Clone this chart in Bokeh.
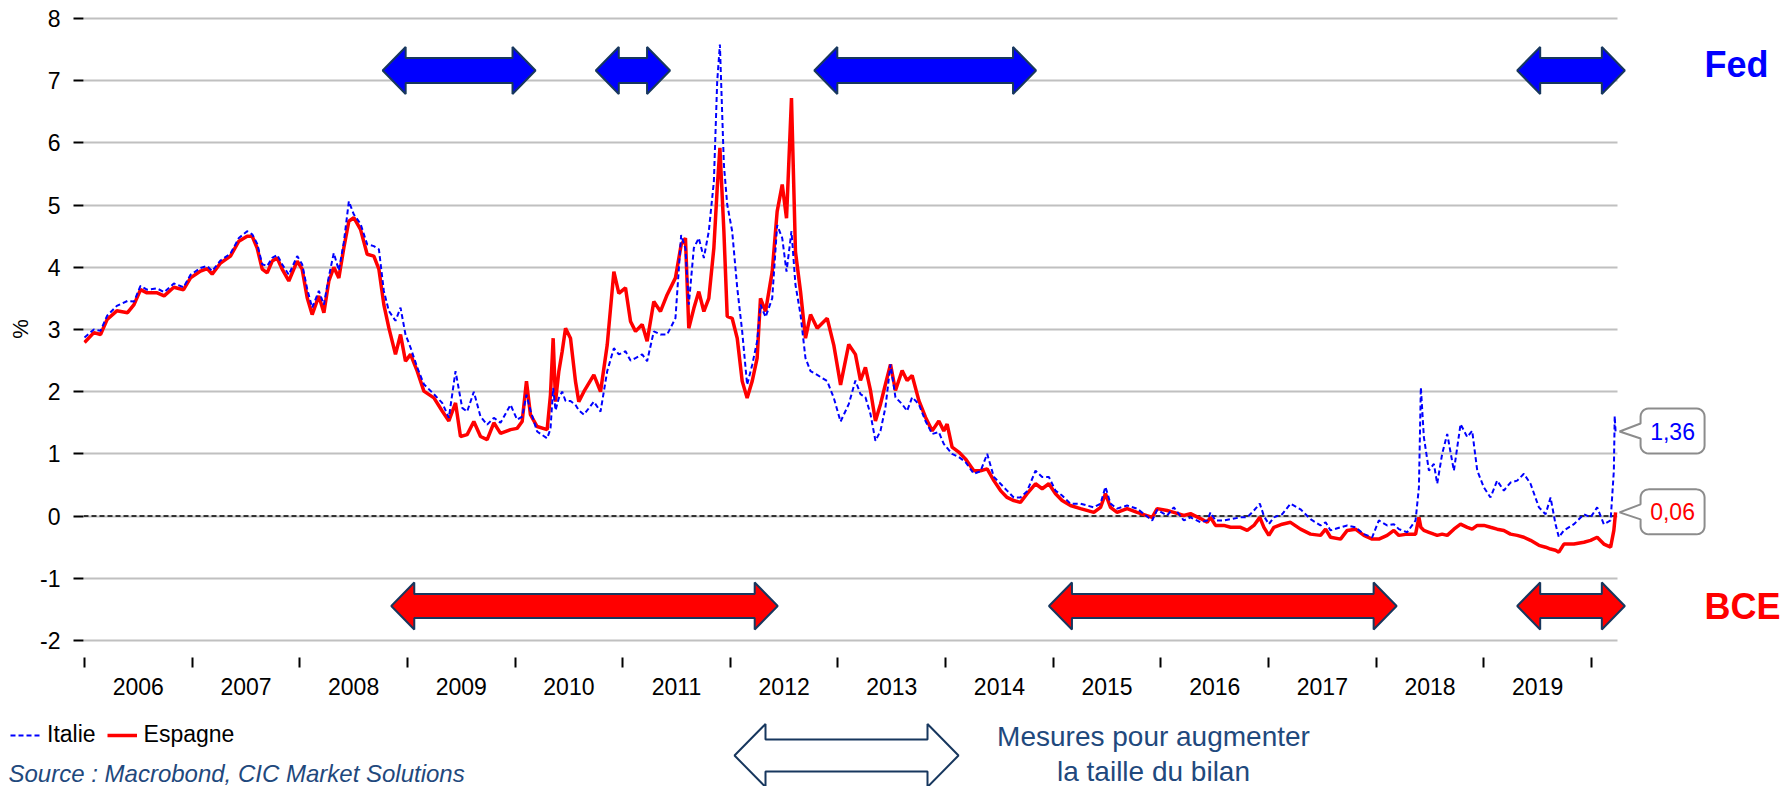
import math
from bokeh.plotting import figure
from bokeh.models import (Range1d, FixedTicker, CustomJSTickFormatter, Legend,
                          LegendItem, ColumnDataSource)
from bokeh.layouts import column
from bokeh.core.properties import value
from bokeh.embed import file_html
from bokeh.resources import INLINE

# ---------------- data ----------------
es_dates = [
    2006.000, 2006.087, 2006.149, 2006.210, 2006.300, 2006.400, 2006.460, 2006.520, 2006.580, 2006.675,
    2006.740, 2006.830, 2006.920, 2006.985, 2007.078, 2007.140, 2007.186, 2007.264, 2007.356, 2007.434,
    2007.511, 2007.558, 2007.604, 2007.651, 2007.697, 2007.744, 2007.790, 2007.836, 2007.898, 2007.976,
    2008.022, 2008.069, 2008.115, 2008.177, 2008.224, 2008.270, 2008.316, 2008.363, 2008.409, 2008.456,
    2008.502, 2008.564, 2008.626, 2008.688, 2008.735, 2008.781, 2008.827, 2008.889, 2008.936, 2008.982,
    2009.029, 2009.091, 2009.153, 2009.246, 2009.323, 2009.385, 2009.447, 2009.493, 2009.555, 2009.617,
    2009.679, 2009.741, 2009.803, 2009.865, 2009.958, 2010.019, 2010.066, 2010.106, 2010.143, 2010.205,
    2010.298, 2010.329, 2010.354, 2010.376, 2010.407, 2010.438, 2010.469, 2010.515, 2010.561, 2010.592,
    2010.639, 2010.732, 2010.794, 2010.856, 2010.918, 2010.964, 2011.026, 2011.073, 2011.119, 2011.181,
    2011.227, 2011.289, 2011.351, 2011.413, 2011.490, 2011.543, 2011.583, 2011.614, 2011.661, 2011.707,
    2011.754, 2011.800, 2011.847, 2011.878, 2011.903, 2011.940, 2011.971, 2012.017, 2012.064, 2012.110,
    2012.156, 2012.203, 2012.249, 2012.280, 2012.327, 2012.389, 2012.435, 2012.482, 2012.522, 2012.568,
    2012.605, 2012.652, 2012.698, 2012.745, 2012.807, 2012.900, 2012.961, 2013.024, 2013.100, 2013.162,
    2013.209, 2013.255, 2013.302, 2013.348, 2013.395, 2013.441, 2013.488, 2013.534, 2013.596, 2013.642,
    2013.689, 2013.751, 2013.813, 2013.875, 2013.937, 2013.983, 2014.014, 2014.060, 2014.122, 2014.184,
    2014.262, 2014.324, 2014.386, 2014.448, 2014.510, 2014.571, 2014.633, 2014.695, 2014.757, 2014.835,
    2014.897, 2014.959, 2015.021, 2015.082, 2015.160, 2015.253, 2015.377, 2015.439, 2015.485, 2015.532,
    2015.593, 2015.686, 2015.779, 2015.919, 2015.965, 2016.058, 2016.120, 2016.213, 2016.275, 2016.368,
    2016.430, 2016.461, 2016.507, 2016.584, 2016.647, 2016.740, 2016.802, 2016.864, 2016.919, 2016.957,
    2017.003, 2017.050, 2017.127, 2017.204, 2017.297, 2017.390, 2017.483, 2017.530, 2017.576, 2017.669,
    2017.731, 2017.808, 2017.886, 2017.963, 2018.025, 2018.102, 2018.164, 2018.211, 2018.288, 2018.366,
    2018.397, 2018.415, 2018.443, 2018.490, 2018.536, 2018.567, 2018.613, 2018.660, 2018.722, 2018.784,
    2018.846, 2018.892, 2018.939, 2019.001, 2019.062, 2019.124, 2019.186, 2019.248, 2019.310, 2019.372,
    2019.434, 2019.512, 2019.574, 2019.620, 2019.666, 2019.697, 2019.744, 2019.837, 2019.930, 2019.992,
    2020.053, 2020.115, 2020.178, 2020.208, 2020.224,
]
es_values = [
    2.79, 2.95, 2.92, 3.16, 3.30, 3.27, 3.40, 3.64, 3.59, 3.59,
    3.54, 3.68, 3.64, 3.83, 3.94, 3.98, 3.89, 4.07, 4.18, 4.42,
    4.50, 4.50, 4.31, 3.97, 3.91, 4.10, 4.15, 3.97, 3.78, 4.10,
    3.97, 3.51, 3.24, 3.54, 3.27, 3.78, 4.00, 3.83, 4.31, 4.74,
    4.80, 4.61, 4.21, 4.18, 3.97, 3.40, 3.03, 2.60, 2.92, 2.49,
    2.60, 2.33, 2.01, 1.90, 1.69, 1.53, 1.82, 1.28, 1.31, 1.52,
    1.28, 1.23, 1.50, 1.33, 1.39, 1.41, 1.52, 2.17, 1.63, 1.44,
    1.39, 1.95, 2.86, 1.84, 2.33, 2.65, 3.02, 2.86, 2.17, 1.84,
    2.00, 2.27, 2.00, 2.75, 3.93, 3.58, 3.67, 3.13, 2.97, 3.08,
    2.81, 3.45, 3.29, 3.56, 3.83, 4.36, 4.47, 3.02, 3.34, 3.61,
    3.29, 3.50, 4.31, 5.27, 5.92, 4.58, 3.21, 3.18, 2.86, 2.17,
    1.90, 2.17, 2.54, 3.50, 3.29, 3.93, 4.90, 5.33, 4.79, 6.72,
    4.25, 3.61, 2.86, 3.24, 3.02, 3.18, 2.75, 2.11, 2.76, 2.60,
    2.18, 2.39, 2.02, 1.53, 1.80, 2.12, 2.44, 2.02, 2.34, 2.18,
    2.26, 1.86, 1.59, 1.37, 1.53, 1.37, 1.48, 1.11, 1.03, 0.92,
    0.73, 0.73, 0.76, 0.57, 0.41, 0.30, 0.25, 0.22, 0.36, 0.52,
    0.44, 0.52, 0.36, 0.25, 0.17, 0.12, 0.06, 0.14, 0.36, 0.14,
    0.06, 0.12, 0.06, -0.02, 0.12, 0.09, 0.06, 0.01, 0.04, -0.04,
    -0.10, -0.02, -0.15, -0.15, -0.18, -0.18, -0.23, -0.15, -0.02, -0.18,
    -0.31, -0.18, -0.13, -0.10, -0.21, -0.29, -0.31, -0.21, -0.34, -0.37,
    -0.23, -0.21, -0.31, -0.37, -0.37, -0.31, -0.23, -0.31, -0.29, -0.29,
    -0.02, -0.18, -0.23, -0.26, -0.29, -0.31, -0.29, -0.31, -0.21, -0.13,
    -0.18, -0.21, -0.15, -0.15, -0.18, -0.21, -0.23, -0.29, -0.31, -0.34,
    -0.39, -0.47, -0.50, -0.53, -0.55, -0.58, -0.45, -0.45, -0.42, -0.39,
    -0.34, -0.45, -0.50, -0.23, 0.06,
]

it_dates = [
    2006.000, 2006.087, 2006.149, 2006.210, 2006.300, 2006.400, 2006.460, 2006.520, 2006.580, 2006.675,
    2006.740, 2006.830, 2006.920, 2006.985, 2007.078, 2007.140, 2007.186, 2007.264, 2007.356, 2007.434,
    2007.511, 2007.558, 2007.604, 2007.651, 2007.697, 2007.744, 2007.790, 2007.836, 2007.898, 2007.976,
    2008.022, 2008.069, 2008.115, 2008.177, 2008.224, 2008.270, 2008.316, 2008.363, 2008.409, 2008.456,
    2008.502, 2008.564, 2008.626, 2008.688, 2008.735, 2008.781, 2008.827, 2008.889, 2008.936, 2008.982,
    2009.029, 2009.091, 2009.153, 2009.246, 2009.323, 2009.385, 2009.447, 2009.509, 2009.555, 2009.617,
    2009.679, 2009.741, 2009.803, 2009.865, 2009.958, 2010.019, 2010.066, 2010.106, 2010.143, 2010.205,
    2010.298, 2010.329, 2010.354, 2010.376, 2010.407, 2010.438, 2010.469, 2010.515, 2010.561, 2010.592,
    2010.639, 2010.732, 2010.794, 2010.856, 2010.918, 2010.964, 2011.026, 2011.073, 2011.119, 2011.181,
    2011.227, 2011.289, 2011.351, 2011.413, 2011.490, 2011.543, 2011.583, 2011.614, 2011.661, 2011.707,
    2011.754, 2011.800, 2011.847, 2011.878, 2011.903, 2011.940, 2011.971, 2012.017, 2012.064, 2012.110,
    2012.156, 2012.203, 2012.249, 2012.280, 2012.327, 2012.389, 2012.435, 2012.482, 2012.522, 2012.568,
    2012.605, 2012.652, 2012.698, 2012.745, 2012.807, 2012.900, 2012.961, 2013.024, 2013.100, 2013.162,
    2013.209, 2013.255, 2013.302, 2013.348, 2013.395, 2013.441, 2013.488, 2013.534, 2013.596, 2013.642,
    2013.689, 2013.751, 2013.813, 2013.875, 2013.937, 2013.983, 2014.060, 2014.122, 2014.184, 2014.262,
    2014.324, 2014.386, 2014.448, 2014.510, 2014.571, 2014.633, 2014.695, 2014.757, 2014.835, 2014.897,
    2014.959, 2015.021, 2015.082, 2015.160, 2015.253, 2015.377, 2015.439, 2015.485, 2015.532, 2015.593,
    2015.686, 2015.779, 2015.919, 2015.965, 2016.058, 2016.120, 2016.213, 2016.275, 2016.368, 2016.430,
    2016.461, 2016.507, 2016.584, 2016.647, 2016.740, 2016.802, 2016.864, 2016.919, 2016.957, 2017.003,
    2017.050, 2017.127, 2017.204, 2017.297, 2017.390, 2017.483, 2017.530, 2017.576, 2017.669, 2017.731,
    2017.808, 2017.886, 2017.963, 2018.025, 2018.102, 2018.164, 2018.211, 2018.288, 2018.366, 2018.397,
    2018.415, 2018.443, 2018.490, 2018.536, 2018.567, 2018.613, 2018.660, 2018.722, 2018.784, 2018.846,
    2018.892, 2018.939, 2019.001, 2019.062, 2019.124, 2019.186, 2019.248, 2019.310, 2019.372, 2019.434,
    2019.512, 2019.574, 2019.620, 2019.666, 2019.697, 2019.744, 2019.837, 2019.930, 2019.992, 2020.053,
    2020.115, 2020.178, 2020.208, 2020.216, 2020.224,
]
it_values = [
    2.87, 3.00, 2.98, 3.22, 3.38, 3.46, 3.45, 3.70, 3.64, 3.66,
    3.60, 3.74, 3.68, 3.88, 3.99, 4.02, 3.94, 4.11, 4.22, 4.47,
    4.58, 4.53, 4.38, 4.05, 4.02, 4.15, 4.20, 4.05, 3.88, 4.18,
    4.05, 3.65, 3.35, 3.62, 3.40, 3.85, 4.23, 3.95, 4.40, 5.06,
    4.85, 4.70, 4.37, 4.34, 4.29, 3.62, 3.30, 3.14, 3.35, 2.92,
    2.71, 2.39, 2.12, 1.96, 1.82, 1.58, 2.33, 1.74, 1.68, 2.00,
    1.60, 1.47, 1.58, 1.50, 1.79, 1.55, 1.60, 1.95, 1.70, 1.36,
    1.25, 1.40, 2.06, 1.70, 1.90, 2.00, 1.85, 1.85, 1.79, 1.70,
    1.63, 1.84, 1.68, 2.33, 2.70, 2.60, 2.65, 2.50, 2.54, 2.60,
    2.49, 2.97, 2.92, 2.92, 3.18, 4.52, 4.30, 3.40, 4.31, 4.47,
    4.15, 4.58, 5.38, 6.99, 7.58, 5.65, 5.01, 4.58, 3.67, 2.97,
    2.11, 2.43, 2.81, 3.40, 3.20, 3.50, 4.68, 4.47, 3.93, 4.58,
    3.72, 3.24, 2.54, 2.33, 2.27, 2.17, 1.90, 1.52, 1.80, 2.18,
    1.96, 1.91, 1.64, 1.21, 1.37, 1.75, 2.44, 1.91, 1.80, 1.69,
    1.91, 1.80, 1.53, 1.32, 1.35, 1.16, 1.00, 0.95, 0.87, 0.68,
    0.72, 1.00, 0.63, 0.52, 0.41, 0.30, 0.30, 0.40, 0.73, 0.63,
    0.63, 0.41, 0.33, 0.20, 0.20, 0.14, 0.20, 0.47, 0.20, 0.12,
    0.17, 0.12, -0.07, 0.10, 0.01, 0.14, -0.07, -0.02, -0.10, -0.07,
    0.06, -0.07, -0.07, -0.05, -0.02, -0.02, 0.09, 0.20, 0.00, -0.13,
    -0.02, 0.03, 0.20, 0.11, -0.05, -0.15, -0.10, -0.23, -0.18, -0.15,
    -0.18, -0.29, -0.34, -0.07, -0.15, -0.13, -0.21, -0.26, -0.07, 0.46,
    2.07, 1.27, 0.73, 0.84, 0.52, 1.00, 1.32, 0.73, 1.48, 1.27,
    1.37, 0.73, 0.46, 0.30, 0.57, 0.41, 0.54, 0.57, 0.68, 0.52,
    0.14, 0.03, 0.30, -0.13, -0.34, -0.23, -0.13, 0.03, -0.02, 0.14,
    -0.13, -0.07, 0.73, 1.61, 1.36,
]

series_names = ["Italie", "Espagne"]
year_bounds = list(range(2006, 2021))          # tick marks at year boundaries
y_ticks = list(range(-2, 9))
fed_start = [2008.77, 2010.75, 2012.78, 2019.31]
fed_end = [2010.19, 2011.44, 2014.84, 2020.31]
bce_start = [2008.85, 2014.96, 2019.31]
bce_end = [2012.44, 2018.19, 2020.31]
bank_labels = ["Fed", "BCE"]
y_label = "%"
source_text = "Source : Macrobond, CIC Market Solutions"
key_text = ["Mesures pour augmenter", "la taille du bilan"]

# ---------------- layout constants (pixels) ----------------
FONT = "Liberation Sans"
BLUE, RED, NAVY, OUTLINE = "#0000FF", "#FF0000", "#1F497D", "#17375E"
W, H1, H2 = 1784, 700, 86
PX_YEAR = 107.64
PX_UNIT = 62.2
X0_PX = 84.0         # pixel x of 1 Jan 2006
Y0_PX = 515.6        # pixel y of value 0
FRAME_L_PX = 83
FRAME_B_PX = 657
GRID_R_PX = 1617


def px2yr(px):
    return 2006 + (px - X0_PX) / PX_YEAR


def py2v(py):
    return (Y0_PX - py) / PX_UNIT


x_start, x_end = px2yr(FRAME_L_PX), px2yr(W)
y_start, y_end = py2v(FRAME_B_PX), py2v(0)
grid_end = px2yr(GRID_R_PX)

# ---------------- main chart ----------------
p = figure(width=W, height=H1, x_range=Range1d(x_start, x_end), y_range=Range1d(y_start, y_end),
           output_backend="svg", toolbar_location=None, frame_align=False,
           min_border_left=FRAME_L_PX, min_border_right=0, min_border_top=0,
           min_border_bottom=H1 - FRAME_B_PX)
p.outline_line_color = None
p.background_fill_color = "white"
p.border_fill_color = "white"

xa = p.xaxis[0]
xa.ticker = FixedTicker(ticks=[y + 0.5 for y in year_bounds[:-1]], minor_ticks=year_bounds)
xa.formatter = CustomJSTickFormatter(code="return String(Math.floor(tick));")
xa.axis_line_color = None
xa.major_tick_line_color = None
xa.major_tick_out = 0
xa.major_tick_in = 0
xa.minor_tick_line_color = "black"
xa.minor_tick_line_width = 2
xa.minor_tick_out = 10
xa.minor_tick_in = 0
xa.major_label_standoff = 10
xa.major_label_text_font = FONT
xa.major_label_text_font_size = "23px"
xa.major_label_text_color = "black"
p.xgrid.visible = False

ya = p.yaxis[0]
ya.ticker = FixedTicker(ticks=y_ticks)
ya.formatter = CustomJSTickFormatter(code="return String(tick);")
ya.axis_line_color = None
ya.major_tick_line_color = "black"
ya.major_tick_line_width = 2
ya.major_tick_out = 10
ya.major_tick_in = 0
ya.minor_tick_line_color = None
ya.major_label_standoff = 13
ya.major_label_text_font = FONT
ya.major_label_text_font_size = "23px"
ya.major_label_text_color = "black"
ya.axis_label = y_label
ya.axis_label_text_font = FONT
ya.axis_label_text_font_size = "22px"
ya.axis_label_text_font_style = "normal"
ya.axis_label_text_color = "black"
ya.axis_label_standoff = 4

p.ygrid.grid_line_color = "#C0C0C0"
p.ygrid.grid_line_width = 2
p.ygrid.cross_bounds = (x_start, grid_end)

# zero reference line
p.line(x=[x_start, grid_end], y=[0, 0], line_color="black", line_width=1.5, line_dash="5 3")

# series
src_es = ColumnDataSource(dict(x=es_dates, y=es_values))
src_it = ColumnDataSource(dict(x=it_dates, y=it_values))
r_es = p.line("x", "y", source=src_es, line_color=RED, line_width=3.5)
r_it = p.line("x", "y", source=src_it, line_color=BLUE, line_width=2, line_dash="5 3")


def arrow_shape(x0, x1, yc, head_px, half_px, shaft_px, px_x, px_y):
    hx = head_px / px_x
    hy = half_px / px_y
    sy = shaft_px / px_y
    xs = [x0, x0 + hx, x0 + hx, x1 - hx, x1 - hx, x1, x1 - hx, x1 - hx, x0 + hx, x0 + hx]
    ys = [yc, yc + hy, yc + sy, yc + sy, yc + hy, yc, yc - hy, yc - sy, yc - sy, yc - hy]
    return xs, ys


fed_row = py2v(70)
bce_row = py2v(605.5)
fed_shapes = [arrow_shape(a, b, fed_row, 23, 23.5, 12.5, PX_YEAR, PX_UNIT) for a, b in zip(fed_start, fed_end)]
bce_shapes = [arrow_shape(a, b, bce_row, 23, 23.5, 12, PX_YEAR, PX_UNIT) for a, b in zip(bce_start, bce_end)]
p.patches(xs=[s[0] for s in fed_shapes], ys=[s[1] for s in fed_shapes],
          fill_color=BLUE, line_color=OUTLINE, line_width=2)
p.patches(xs=[s[0] for s in bce_shapes], ys=[s[1] for s in bce_shapes],
          fill_color=RED, line_color=OUTLINE, line_width=2)

p.text(x=[px2yr(1704)], y=[py2v(63.5)], text=[bank_labels[0]], text_font=value(FONT),
       text_font_style="bold", text_font_size="36px", text_color=BLUE,
       text_align="left", text_baseline="middle")
p.text(x=[px2yr(1704)], y=[py2v(605.5)], text=[bank_labels[1]], text_font=value(FONT),
       text_font_style="bold", text_font_size="36px", text_color=RED,
       text_align="left", text_baseline="middle")


# value callouts at the last point of each series
def callout(last_x, last_v, color):
    tip_x = last_x + 4 / PX_YEAR
    r, L, R, T, B = 8, 21, 85, -23, 22

    def arc(cx, cy, a0, a1, n=6):
        return [(cx + r * math.cos(a0 + (a1 - a0) * k / n), cy + r * math.sin(a0 + (a1 - a0) * k / n))
                for k in range(n + 1)]
    pts = [(0, 0), (L, -8)]
    pts += arc(L + r, T + r, math.pi, 1.5 * math.pi)
    pts += arc(R - r, T + r, 1.5 * math.pi, 2 * math.pi)
    pts += arc(R - r, B - r, 0, 0.5 * math.pi)
    pts += arc(L + r, B - r, 0.5 * math.pi, math.pi)
    pts += [(L, 7)]
    xs = [tip_x + dx / PX_YEAR for dx, dy in pts]
    ys = [last_v - dy / PX_UNIT for dx, dy in pts]
    p.patch(xs, ys, fill_color="white", line_color="#8C8C8C", line_width=2)
    label = f"{last_v:.2f}".replace(".", ",")
    p.text(x=[tip_x + 53 / PX_YEAR], y=[last_v + 0.5 / PX_UNIT], text=[label],
           text_font=value(FONT), text_font_size="23px", text_color=color,
           text_align="center", text_baseline="middle")


callout(it_dates[-1], it_values[-1], BLUE)
callout(es_dates[-1], es_values[-1], RED)

# ---------------- bottom strip: legend, source, key (pixel coordinates) ----------------
p2 = figure(width=W, height=H2, x_range=Range1d(0, W),
            y_range=Range1d(H1 + H2, H1),
            output_backend="svg", toolbar_location=None, min_border=0, frame_align=False,
            x_axis_type=None, y_axis_type=None)
p2.outline_line_color = None
p2.grid.visible = False
p2.background_fill_color = "white"
p2.border_fill_color = "white"

# legend sample renderers (their points lie outside the visible strip)
d_it = p2.line(x=[-1000, -990], y=[-1000, -990], line_color=BLUE, line_width=2, line_dash="5 3")
d_es = p2.line(x=[-1000, -990], y=[-1000, -990], line_color=RED, line_width=3.5)
legend = Legend(items=[LegendItem(label=series_names[0], renderers=[d_it]),
                       LegendItem(label=series_names[1], renderers=[d_es])],
                location=(10, H1 + H2 - 748), orientation="horizontal", glyph_width=30, glyph_height=20,
                label_standoff=7, spacing=11, padding=0, margin=0,
                label_text_font=FONT, label_text_font_size="23px", label_text_color="black",
                border_line_color=None, background_fill_alpha=0)
p2.add_layout(legend)

p2.text(x=[8], y=[773], text=[source_text], text_font=value(FONT), text_font_style="italic",
        text_font_size="24px", text_color=NAVY, text_align="left", text_baseline="middle")

kx, ky = arrow_shape(734, 958, 755, 31, -31.5, -16, 1, 1)
p2.patch(kx, ky, fill_color="white", line_color=OUTLINE, line_width=2)
p2.text(x=[1153, 1153], y=[736, 771], text=key_text, text_font=value(FONT),
        text_font_size="28px", text_color=NAVY, text_align="center", text_baseline="middle")

layout = column(p, p2, spacing=0)
open("out.html", "w").write(file_html(layout, INLINE, "Taux"))
